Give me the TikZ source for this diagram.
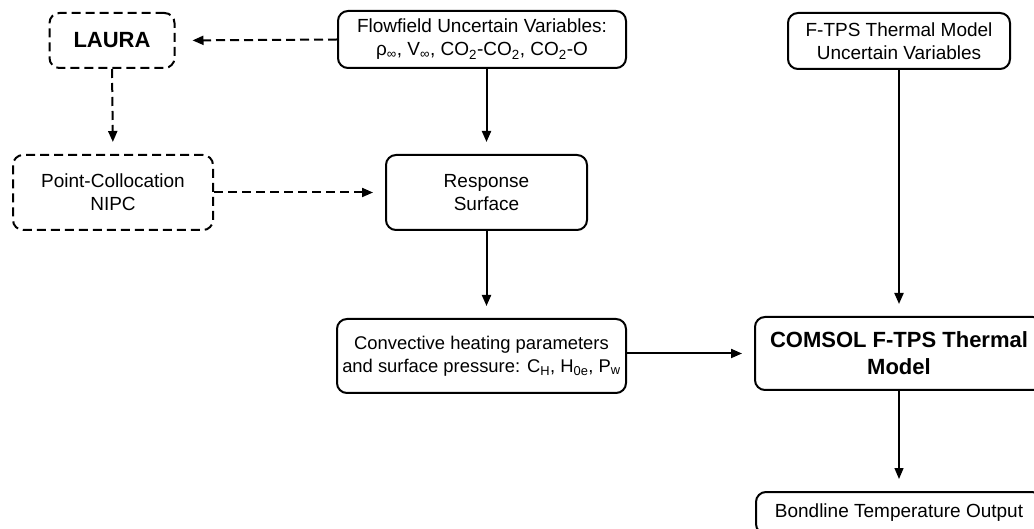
\documentclass[tikz,border=0pt]{standalone}
\usepackage{fontspec}
\setmainfont{Liberation Sans}
\usetikzlibrary{arrows.meta}
\begin{document}
\begin{tikzpicture}[x=1pt,y=-1pt,
  box/.style={draw, line width=2pt, rounded corners=10pt, align=center, inner sep=0pt,
    font=\fontsize{19}{23}\selectfont},
  dbox/.style={box, dash pattern=on 9pt off 5pt},
  boldtext/.style={font=\fontsize{22}{27}\selectfont\bfseries},
  smalltext/.style={font=\fontsize{18.4}{23}\selectfont},
  arr/.style={line width=2pt, -{Triangle[length=11pt,width=9pt]}, shorten >=12pt},
  thinarr/.style={arr, line width=1.3pt},
  darr/.style={arr, dash pattern=on 9pt off 5pt}]
\useasboundingbox (0,0) rectangle (1034,529);
\clip (0,0) rectangle (1034,529);

\node[dbox, boldtext, minimum width=125, minimum height=55] (laura) at (112,40.5) {LAURA};
\node[dbox, minimum width=200, minimum height=75] (nipc) at (113,192.5) {Point-Collocation\\NIPC};
\node[box, minimum width=288, minimum height=57] (flow) at (482,39.5)
  {Flowfield Uncertain Variables:\\ρ\textsubscript{∞}, V\textsubscript{∞}, CO\textsubscript{2}-CO\textsubscript{2}, CO\textsubscript{2}-O};
\node[box, minimum width=201, minimum height=75] (resp) at (486.5,192.5) {Response\\Surface};
\node[box, smalltext, minimum width=289, minimum height=74] (conv) at (481.5,356)
  {Convective heating parameters\\and surface pressure: C\textsubscript{H}, H\textsubscript{0e}, P\textsubscript{w}};
\node[box, minimum width=222, minimum height=56] (ftps) at (899,41) {F-TPS Thermal Model\\Uncertain Variables};
\node[box, boldtext, minimum width=288, minimum height=73] (comsol) at (899,353.5) {COMSOL F-TPS Thermal\\Model};
\node[box, minimum width=286, minimum height=42] (bond) at (899,513) {Bondline Temperature Output};

\draw[darr, shorten >=17pt] (flow.west) -- (laura.east);
\draw[darr] (laura.south) -- (nipc.north);
\draw[darr] (nipc.east) -- (resp.west);
\draw[arr] (flow.south -| resp.north) -- (resp.north);
\draw[arr] (resp.south) -- (resp.south |- conv.north);
\draw[arr] (conv.east |- comsol.west) -- (comsol.west);
\draw[arr] (ftps.south) -- (comsol.north);
\draw[thinarr] (comsol.south) -- (bond.north);
\end{tikzpicture}
\end{document}
